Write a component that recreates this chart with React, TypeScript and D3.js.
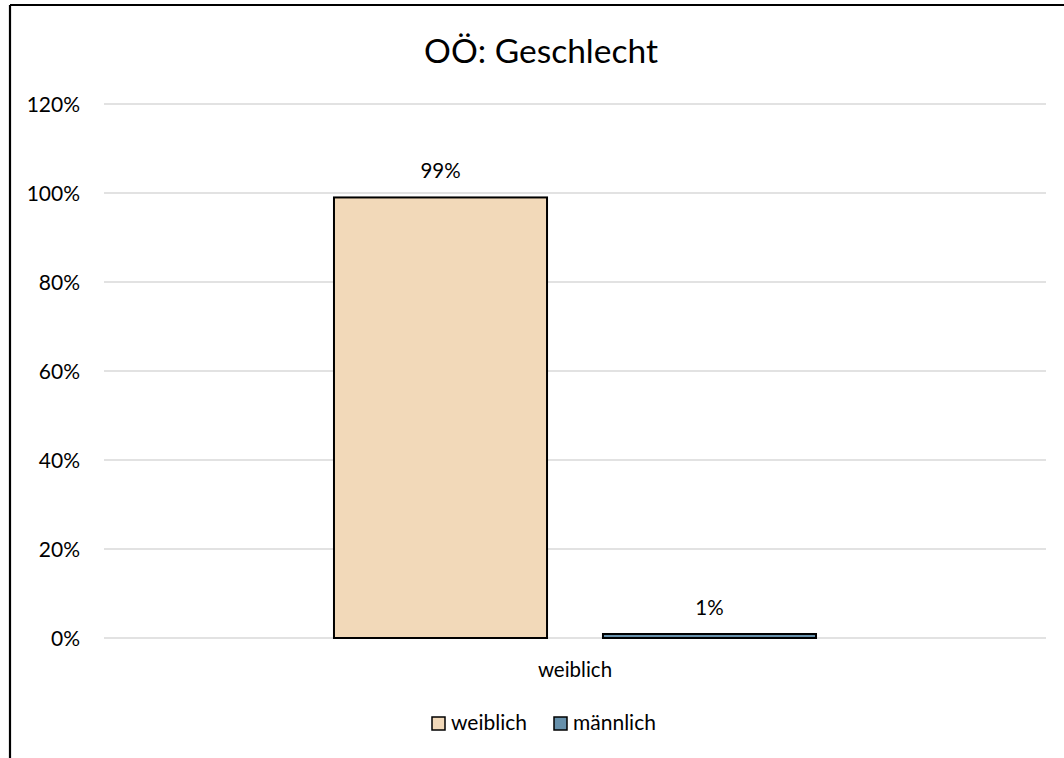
import React from "react";
import * as d3 from "d3";

const categories = ["weiblich"];
const seriesNames = ["weiblich", "männlich"];
const seriesValues = [0.99, 0.009];
const valueLabels = ["99%", "1%"];
const yTicks = [0, 0.2, 0.4, 0.6, 0.8, 1.0, 1.2];
const title = "OÖ: Geschlecht";
const colors = ["#F2D9B9", "#6690AB"];

const W = 1064;
const H = 758;
const FONT = "Lato, Carlito, Calibri, sans-serif";

export default function App() {
  const plotLeft = 104;
  const plotRight = 1046;
  const y = d3.scaleLinear().domain([0, 1.2]).range([638, 104]);
  const x0 = d3.scaleBand<string>().domain(categories).range([plotLeft, plotRight]).padding(0.323);
  const x1 = d3
    .scaleBand<string>()
    .domain(seriesNames)
    .range([0, x0.bandwidth()])
    .paddingInner(0.208)
    .paddingOuter(0);
  const fmt = d3.format(".0%");

  return (
    <svg
      width={W}
      height={H}
      style={{ position: "absolute", left: 0, top: 0, background: "#fff" }}
      fontFamily={FONT}
    >
      <rect x={0} y={0} width={W} height={H} fill="#fff" />
      {/* outer border (left and top visible) */}
      <line x1={10} y1={5} x2={10} y2={H} stroke="#000" strokeWidth={2.2} />
      <line x1={10} y1={5} x2={W} y2={5} stroke="#000" strokeWidth={2.2} />

      <text x={541} y={63} textAnchor="middle" fontSize={33.5} fill="#000">
        {title}
      </text>

      {yTicks.map((t) => (
        <g key={t}>
          <line x1={plotLeft} x2={plotRight} y1={y(t)} y2={y(t)} stroke="#D9D9D9" strokeWidth={1.5} />
          <text x={80} y={y(t) + 7.5} textAnchor="end" fontSize={21} fill="#000">
            {fmt(t)}
          </text>
        </g>
      ))}

      {categories.map((c) => (
        <g key={c} transform={`translate(${x0(c)},0)`}>
          {seriesNames.map((s, i) => {
            const bx = x1(s)!;
            const by = y(seriesValues[i]);
            return (
              <g key={s}>
                <rect
                  x={bx}
                  y={by}
                  width={x1.bandwidth()}
                  height={y(0) - by}
                  fill={colors[i]}
                  stroke="#000"
                  strokeWidth={2}
                />
                <text
                  x={bx + x1.bandwidth() / 2}
                  y={by - 19}
                  textAnchor="middle"
                  fontSize={20.5}
                  fill="#000"
                >
                  {valueLabels[i]}
                </text>
              </g>
            );
          })}
          <text x={x0.bandwidth() / 2} y={677} textAnchor="middle" fontSize={20.5} fill="#000">
            {c}
          </text>
        </g>
      ))}

      {/* legend */}
      {seriesNames.map((s, i) => {
        const lx = [432, 554][i];
        return (
          <g key={s}>
            <rect x={lx} y={717} width={13} height={13} fill={colors[i]} stroke="#000" strokeWidth={1.5} />
            <text x={lx + 19} y={730} fontSize={21} fill="#000">
              {s}
            </text>
          </g>
        );
      })}
    </svg>
  );
}
